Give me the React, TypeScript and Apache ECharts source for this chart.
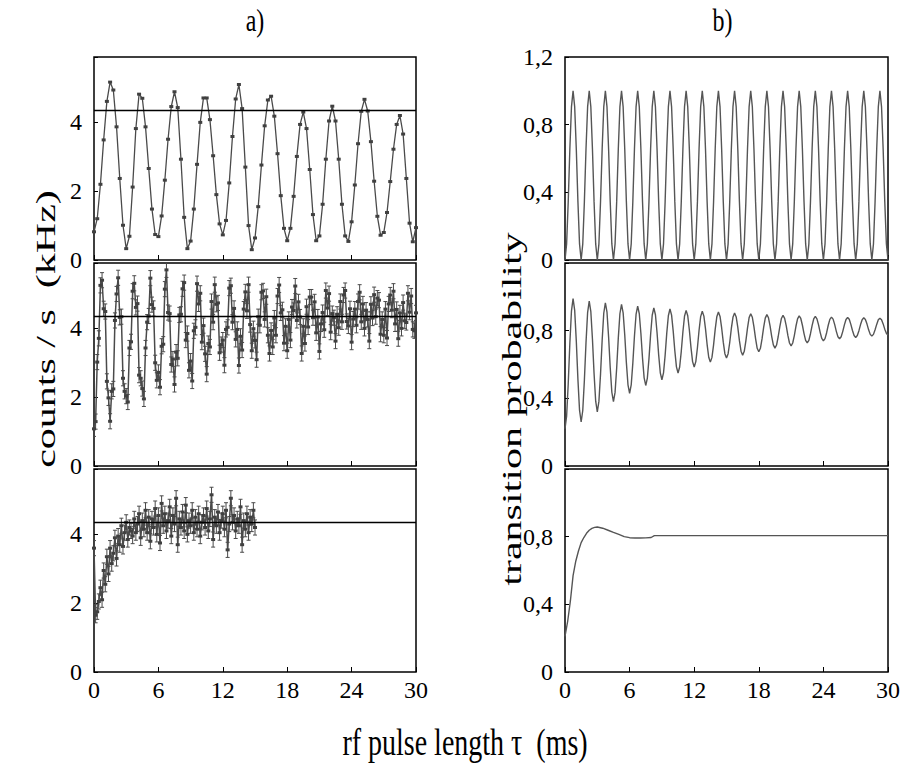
import React, { useEffect, useRef } from "react";
import * as echarts from "echarts";

// ---------- axes ----------
const X_MIN = 0;
const X_MAX = 30;
const X_INTERVAL = 6;
const LEFT_Y_TICKS = [0, 2, 4];
const LEFT_Y_MAX = 5.9;
const RIGHT_Y_TICKS_TOP = [0, 0.4, 0.8, 1.2];
const RIGHT_Y_TICKS_LOWER = [0, 0.4, 0.8];
const RIGHT_Y_MAX = 1.2;
const REFERENCE_LEVEL = 4.35; // kHz, horizontal line in panels a)

// ---------- a) top: counts / s (kHz), sampled every 0.3 ms ----------
const TOP_LEFT_STEP = 0.3;
const topLeftCounts = [
  0.82, 1.2, 2.2, 3.49, 4.61, 5.17, 4.94, 3.87, 2.37, 1.01, 0.33, 0.69, 2.12, 3.82, 4.82,
  4.7, 3.87, 2.66, 1.48, 0.74, 0.68, 1.28, 2.32, 3.51, 4.46, 4.89, 4.43, 2.93, 1.24, 0.33,
  0.55, 1.48, 2.78, 4.0, 4.71, 4.71, 4.08, 3.03, 1.9, 1.05, 0.73, 1.15, 2.24, 3.59, 4.68,
  5.1, 4.4, 2.7, 1.0, 0.3, 0.64, 1.55, 2.76, 3.9, 4.65, 4.76, 4.18, 3.09, 1.87, 0.92,
  0.56, 0.92, 1.85, 3.01, 3.94, 4.3, 3.82, 2.63, 1.32, 0.56, 0.7, 1.62, 2.93, 4.04, 4.47,
  4.04, 2.93, 1.62, 0.7, 0.54, 1.11, 2.18, 3.38, 4.32, 4.67, 4.33, 3.44, 2.29, 1.27, 0.72,
  0.8, 1.38, 2.28, 3.22, 3.94, 4.2, 3.66, 2.37, 1.07, 0.53, 0.94,
];

// ---------- a) middle: counts / s (kHz), every 0.15 ms ----------
const MID_LEFT_STEP = 0.15;
const midLeftCounts = [
  1.08, 1.29, 3.02, 3.71, 5.25, 5.4, 4.57, 4.49, 2.46, 1.98,
  1.3, 2.17, 2.24, 4.23, 5.0, 5.47, 4.32, 4.34, 2.55, 2.17,
  2.03, 1.86, 3.43, 3.61, 5.08, 5.31, 4.61, 4.72, 2.64, 2.55,
  2.25, 1.95, 3.43, 4.18, 4.36, 5.46, 4.69, 4.58, 3.0, 2.49,
  2.72, 2.29, 3.48, 3.54, 5.14, 5.7, 4.46, 4.43, 2.95, 3.11,
  2.37, 3.31, 3.13, 4.39, 4.41, 5.15, 5.33, 3.66, 3.85, 2.78,
  3.05, 2.47, 3.93, 4.03, 5.3, 4.71, 5.02, 3.6, 4.08, 3.26,
  2.67, 3.56, 3.46, 4.78, 4.18, 5.27, 4.7, 4.74, 3.29, 3.53,
  3.66, 2.93, 3.97, 4.03, 5.17, 5.24, 4.18, 4.58, 3.68, 3.97,
  2.92, 3.77, 3.37, 4.56, 5.06, 4.51, 5.27, 4.11, 3.35, 3.99,
  3.65, 3.09, 4.34, 4.09, 5.05, 5.09, 4.26, 4.92, 3.8, 3.27,
  3.94, 3.46, 4.3, 3.8, 4.94, 5.26, 4.45, 4.54, 3.57, 4.06,
  3.35, 4.26, 3.66, 4.62, 4.52, 5.23, 4.23, 4.77, 4.33, 3.27,
  4.06, 3.56, 4.63, 4.04, 4.91, 4.91, 4.31, 4.77, 3.87, 4.33,
  3.33, 4.13, 4.46, 3.96, 5.1, 4.59, 5.01, 3.89, 4.43, 4.31,
  3.63, 4.41, 4.02, 4.78, 4.19, 4.97, 5.1, 4.2, 4.07, 4.57,
  3.6, 4.27, 4.56, 4.09, 4.78, 5.05, 4.19, 4.71, 4.0, 4.53,
  4.26, 3.63, 4.7, 4.3, 4.98, 4.34, 4.88, 4.82, 3.83, 4.26,
  3.8, 4.56, 3.72, 4.71, 4.97, 4.53, 5.08, 4.13, 4.55, 3.7,
  4.45, 4.0, 4.75, 4.22, 4.17, 5.02, 4.47, 4.94, 3.97, 3.93,
  4.45,
];

// ---------- a) bottom: counts / s (kHz), every 0.15 ms up to 15 ms ----------
const BOTTOM_LEFT_STEP = 0.15;
const bottomLeftCounts = [
  3.6, 1.65, 1.75, 2.05, 2.45, 2.1, 2.95, 2.55, 3.35, 2.85,
  3.6, 3.15, 3.45, 3.9, 3.3, 3.95, 3.7, 4.25, 3.65, 4.05,
  4.35, 3.85, 4.2, 4.1, 3.95, 4.45, 4.05, 4.3, 4.6, 3.9,
  4.4, 4.15, 4.7, 4.05, 4.5, 3.8, 4.45, 4.2, 4.75, 4.0,
  4.55, 3.75, 4.9, 4.25, 4.6, 4.1, 4.4, 4.8, 3.95, 4.55,
  4.3, 5.05, 3.7, 4.45, 4.2, 4.65, 4.1, 4.85, 4.0, 4.4,
  4.25, 4.7, 4.05, 4.5, 4.15, 4.6, 3.95, 4.35, 4.55, 4.2,
  4.75, 4.1, 4.45, 5.15, 3.85, 4.5, 4.25, 4.65, 4.05, 4.4,
  4.6, 4.15, 4.7, 3.55, 4.3, 5.05, 4.35, 4.55, 4.1, 4.45,
  4.25, 4.8, 3.7, 4.4, 4.15, 4.6, 4.05, 4.5, 4.3, 4.7,
  4.2,
];
const ERROR_HALF_WIDTH = 0.22; // kHz, error bars in a) middle / bottom

// ---------- b) top: transition probability, every 0.15 ms ----------
const TOP_RIGHT_STEP = 0.15;
const topRightProb = [
  0, 0.095, 0.345, 0.655, 0.905, 1, 0.905, 0.655, 0.345, 0.095,
  0, 0.095, 0.345, 0.655, 0.905, 1, 0.905, 0.655, 0.345, 0.095,
  0, 0.095, 0.345, 0.655, 0.905, 1, 0.905, 0.655, 0.345, 0.095,
  0, 0.095, 0.345, 0.655, 0.905, 1, 0.905, 0.655, 0.345, 0.095,
  0, 0.095, 0.345, 0.655, 0.905, 1, 0.905, 0.655, 0.345, 0.095,
  0, 0.095, 0.345, 0.655, 0.905, 1, 0.905, 0.655, 0.345, 0.095,
  0, 0.095, 0.345, 0.655, 0.905, 1, 0.905, 0.655, 0.345, 0.095,
  0, 0.095, 0.345, 0.655, 0.905, 1, 0.905, 0.655, 0.345, 0.095,
  0, 0.095, 0.345, 0.655, 0.905, 1, 0.905, 0.655, 0.345, 0.095,
  0, 0.095, 0.345, 0.655, 0.905, 1, 0.905, 0.655, 0.345, 0.095,
  0, 0.095, 0.345, 0.655, 0.905, 1, 0.905, 0.655, 0.345, 0.095,
  0, 0.095, 0.345, 0.655, 0.905, 1, 0.905, 0.655, 0.345, 0.095,
  0, 0.095, 0.345, 0.655, 0.905, 1, 0.905, 0.655, 0.345, 0.095,
  0, 0.095, 0.345, 0.655, 0.905, 1, 0.905, 0.655, 0.345, 0.095,
  0, 0.095, 0.345, 0.655, 0.905, 1, 0.905, 0.655, 0.345, 0.095,
  0, 0.095, 0.345, 0.655, 0.905, 1, 0.905, 0.655, 0.345, 0.095,
  0, 0.095, 0.345, 0.655, 0.905, 1, 0.905, 0.655, 0.345, 0.095,
  0, 0.095, 0.345, 0.655, 0.905, 1, 0.905, 0.655, 0.345, 0.095,
  0, 0.095, 0.345, 0.655, 0.905, 1, 0.905, 0.655, 0.345, 0.095,
  0, 0.095, 0.345, 0.655, 0.905, 1, 0.905, 0.655, 0.345, 0.095,
  0,
];

// ---------- b) middle: transition probability, every 0.15 ms ----------
const MID_RIGHT_STEP = 0.15;
const midRightProb = [
  0.22, 0.294, 0.486, 0.724, 0.916, 0.99, 0.92, 0.738, 0.512, 0.33,
  0.26, 0.328, 0.507, 0.728, 0.907, 0.975, 0.912, 0.749, 0.546, 0.383,
  0.32, 0.382, 0.543, 0.742, 0.903, 0.965, 0.909, 0.763, 0.582, 0.436,
  0.38, 0.435, 0.579, 0.756, 0.9, 0.955, 0.905, 0.774, 0.611, 0.48,
  0.43, 0.479, 0.608, 0.767, 0.896, 0.945, 0.9, 0.783, 0.638, 0.521,
  0.476, 0.52, 0.635, 0.776, 0.891, 0.935, 0.894, 0.788, 0.657, 0.551,
  0.51, 0.55, 0.654, 0.784, 0.888, 0.928, 0.892, 0.797, 0.681, 0.586,
  0.55, 0.585, 0.678, 0.792, 0.885, 0.92, 0.888, 0.804, 0.701, 0.617,
  0.585, 0.617, 0.699, 0.801, 0.883, 0.915, 0.886, 0.811, 0.718, 0.643,
  0.614, 0.642, 0.716, 0.808, 0.882, 0.91, 0.884, 0.816, 0.732, 0.664,
  0.638, 0.664, 0.73, 0.813, 0.879, 0.905, 0.881, 0.819, 0.741, 0.679,
  0.655, 0.678, 0.74, 0.815, 0.877, 0.9, 0.879, 0.822, 0.753, 0.696,
  0.675, 0.696, 0.751, 0.819, 0.874, 0.895, 0.876, 0.827, 0.765, 0.716,
  0.697, 0.715, 0.764, 0.823, 0.872, 0.89, 0.873, 0.828, 0.772, 0.727,
  0.71, 0.727, 0.771, 0.826, 0.87, 0.887, 0.872, 0.832, 0.783, 0.743,
  0.728, 0.743, 0.782, 0.83, 0.869, 0.884, 0.87, 0.834, 0.79, 0.754,
  0.74, 0.753, 0.788, 0.832, 0.867, 0.88, 0.868, 0.836, 0.796, 0.764,
  0.752, 0.764, 0.796, 0.834, 0.866, 0.878, 0.867, 0.837, 0.801, 0.771,
  0.76, 0.771, 0.8, 0.836, 0.865, 0.876, 0.866, 0.839, 0.805, 0.778,
  0.768, 0.778, 0.805, 0.837, 0.864, 0.874, 0.865, 0.84, 0.809, 0.784,
  0.775,
];

// ---------- b) bottom: transition probability ----------
const bottomRightTimes = [
  0, 0.25, 0.5, 0.75, 1.0, 1.25, 1.5, 1.75, 2.0, 2.25, 2.5, 2.75, 3.0, 3.5, 4.0, 4.5, 5.0,
  5.5, 6.0, 6.5, 7.0, 7.5, 8.0, 8.3, 30,
];
const bottomRightProb = [
  0.21, 0.3, 0.42, 0.57, 0.655, 0.715, 0.765, 0.795, 0.82, 0.838, 0.849, 0.855, 0.857, 0.85,
  0.838, 0.825, 0.813, 0.8, 0.794, 0.792, 0.792, 0.793, 0.795, 0.806, 0.806,
];

// ---------- texts ----------
const PANEL_TITLES = ["a)", "b)"];
const X_NAME = "rf pulse length \u03c4  (ms)";
const Y_NAME_LEFT = "counts / s  (kHz)";
const Y_NAME_RIGHT = "transition probability";

const FONT = "'Liberation Serif', 'DejaVu Serif', serif";

const stepped = (values: number[], step: number) =>
  values.map((v, i) => [+(i * step).toFixed(3), v]);

const fmtRight = (v: number) => (Math.abs(v) < 1e-9 ? "0" : v.toFixed(1).replace(".", ","));
const isIn = (list: number[], v: number) => list.some((t) => Math.abs(t - v) < 1e-6);

export default function App() {
  const ref = useRef<HTMLDivElement>(null);

  useEffect(() => {
    document.body.style.margin = "0";
    if (!ref.current) return;
    const chart = echarts.init(ref.current, null, { renderer: "svg" });

    const LEFT_X = 94;
    const LEFT_W = 322;
    const RIGHT_X = 565;
    const RIGHT_W = 323;
    const ROW_TOPS = [57, 263, 469];
    const ROW_H = 203;

    const grids = [0, 1].flatMap((c) =>
      [0, 1, 2].map((r) => ({
        left: c === 0 ? LEFT_X : RIGHT_X,
        top: ROW_TOPS[r],
        width: c === 0 ? LEFT_W : RIGHT_W,
        height: ROW_H,
        show: true,
        borderColor: "#000",
        borderWidth: 1.5,
        backgroundColor: "transparent",
        containLabel: false,
      }))
    );

    const labelStyle = { color: "#000", fontFamily: FONT, fontSize: 24 };

    const xAxes = grids.map((_, i) => ({
      type: "value",
      gridIndex: i,
      min: X_MIN,
      max: X_MAX,
      interval: X_INTERVAL,
      axisLine: { show: false },
      axisTick: { show: true, inside: true, length: 5, lineStyle: { color: "#000", width: 1 } },
      axisLabel: { show: i % 3 === 2, margin: 6, ...labelStyle },
      splitLine: { show: false },
    }));

    const yAxes = grids.map((_, i) => {
      const left = i < 3;
      const row = i % 3;
      return {
        type: "value",
        gridIndex: i,
        min: 0,
        max: left ? LEFT_Y_MAX : RIGHT_Y_MAX,
        interval: left ? 2 : 0.4,
        axisLine: { show: false },
        axisTick: { show: true, inside: true, length: 4, lineStyle: { color: "#000", width: 1 } },
        axisLabel: {
          margin: 12,
          ...labelStyle,
          formatter: (v: number) => {
            if (left) return isIn(LEFT_Y_TICKS, v) ? String(Math.round(v)) : "";
            const list = row === 0 ? RIGHT_Y_TICKS_TOP : RIGHT_Y_TICKS_LOWER;
            return isIn(list, v) ? fmtRight(v) : "";
          },
        },
        splitLine: { show: false },
      };
    });

    const refLine = {
      silent: true,
      symbol: "none",
      label: { show: false },
      lineStyle: { color: "#000", width: 1.3, type: "solid" },
      data: [{ yAxis: REFERENCE_LEVEL }],
    };

    const dataColor = "#4a4a4a";
    const errorSeries = (idx: number, data: number[][]) => ({
      type: "custom",
      xAxisIndex: idx,
      yAxisIndex: idx,
      clip: true,
      encode: { x: 0, y: 1 },
      data,
      renderItem: (_p: any, api: any) => {
        const x = api.value(0);
        const y = api.value(1);
        const a = api.coord([x, y + ERROR_HALF_WIDTH]);
        const b = api.coord([x, y - ERROR_HALF_WIDTH]);
        const cap = 2;
        const st = { stroke: dataColor, lineWidth: 1 };
        return {
          type: "group",
          children: [
            { type: "line", shape: { x1: a[0], y1: a[1], x2: b[0], y2: b[1] }, style: st },
            { type: "line", shape: { x1: a[0] - cap, y1: a[1], x2: a[0] + cap, y2: a[1] }, style: st },
            { type: "line", shape: { x1: b[0] - cap, y1: b[1], x2: b[0] + cap, y2: b[1] }, style: st },
          ],
        };
      },
    });

    const dataLine = (idx: number, data: number[][], width: number) => ({
      type: "line",
      xAxisIndex: idx,
      yAxisIndex: idx,
      data,
      symbol: "rect",
      symbolSize: [4, 3],
      showSymbol: true,
      itemStyle: { color: "#404040" },
      lineStyle: { color: dataColor, width },
      clip: true,
      markLine: refLine,
    });

    const theoryLine = (idx: number, data: number[][]) => ({
      type: "line",
      xAxisIndex: idx,
      yAxisIndex: idx,
      data,
      symbol: "none",
      lineStyle: { color: "#555", width: 1.4 },
      clip: true,
    });

    const topLeft = stepped(topLeftCounts, TOP_LEFT_STEP);
    const midLeft = stepped(midLeftCounts, MID_LEFT_STEP);
    const botLeft = stepped(bottomLeftCounts, BOTTOM_LEFT_STEP);
    const topRight = stepped(topRightProb, TOP_RIGHT_STEP);
    const midRight = stepped(midRightProb, MID_RIGHT_STEP);
    const botRight = bottomRightTimes.map((t, i) => [t, bottomRightProb[i]]);

    const series = [
      dataLine(0, topLeft, 1.3),
      errorSeries(1, midLeft),
      dataLine(1, midLeft, 1.5),
      errorSeries(2, botLeft),
      dataLine(2, botLeft, 1.5),
      theoryLine(3, topRight),
      theoryLine(4, midRight),
      theoryLine(5, botRight),
    ];

    const textBase = { fill: "#000", fontFamily: FONT, textAlign: "center", textVerticalAlign: "middle" };

    const graphic = [
      { type: "text", x: LEFT_X + LEFT_W / 2, y: 20, scaleY: 1.3, style: { ...textBase, text: PANEL_TITLES[0], fontSize: 24 } },
      { type: "text", x: RIGHT_X + RIGHT_W / 2 - 4, y: 20, scaleY: 1.3, style: { ...textBase, text: PANEL_TITLES[1], fontSize: 24 } },
      { type: "text", x: 465, y: 742, scaleY: 1.35, style: { ...textBase, text: X_NAME, fontSize: 28 } },
      { type: "text", x: 46, y: 329, rotation: Math.PI / 2, scaleX: 1.5, style: { ...textBase, text: Y_NAME_LEFT, fontSize: 28 } },
      { type: "text", x: 512, y: 409, rotation: Math.PI / 2, scaleX: 1.5, style: { ...textBase, text: Y_NAME_RIGHT, fontSize: 28 } },
    ];

    chart.setOption({
      animation: false,
      backgroundColor: "#fff",
      grid: grids,
      xAxis: xAxes,
      yAxis: yAxes,
      series,
      graphic,
    } as any);

    return () => chart.dispose();
  }, []);

  return <div ref={ref} style={{ width: 912, height: 780 }} />;
}
